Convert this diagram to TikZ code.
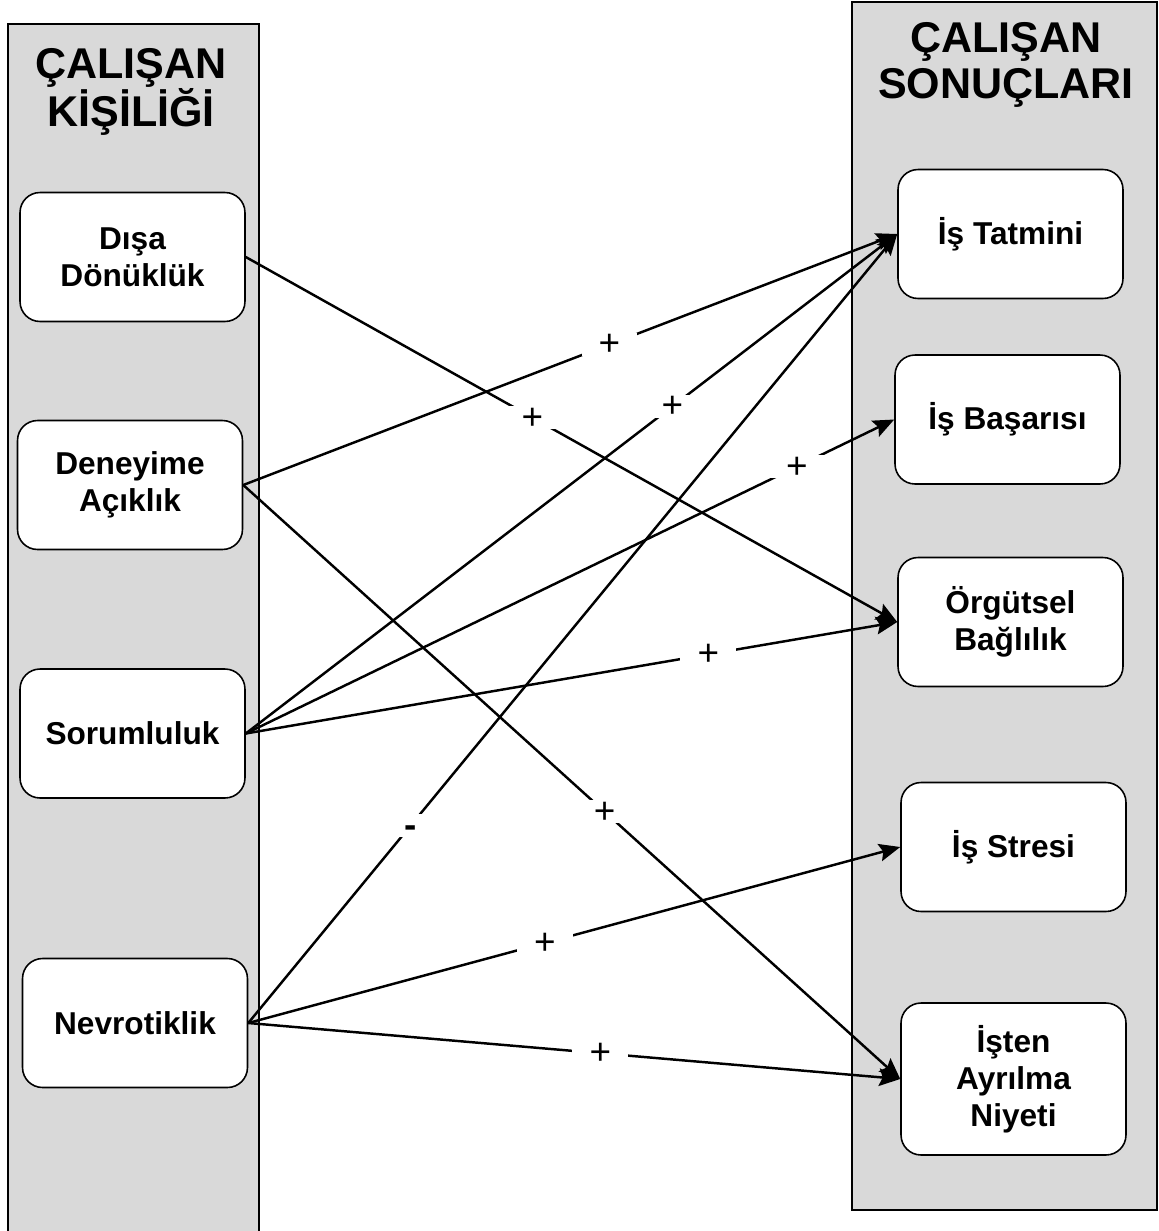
\documentclass[tikz,border=0pt]{standalone}
\usepackage{fontspec}
\setmainfont{Liberation Sans}
\usetikzlibrary{arrows.meta}
\tikzset{
    panel/.style={
        draw=black,
        fill=black!15,
        line width=1.2pt
    },
    heading/.style={
        align=center,
        font=\fontsize{24.5}{26}\selectfont\bfseries
    },
    trait/.style={
        rectangle,
        rounded corners=0.4cm,
        draw=black,
        fill=white,
        line width=0.9pt,
        align=center,
        minimum width=4.5cm,
        minimum height=2.58cm,
        font=\fontsize{18}{21}\selectfont\bfseries
    },
    arrow/.style={
        -{Stealth[length=12pt,width=10pt,inset=2pt]},
        line width=1.4pt
    },
    sign/.style={
        fill=white,
        inner xsep=9.8pt,
        inner ysep=0pt,
        text height=1.3em,
        text depth=0pt,
        font=\fontsize{21}{24}\selectfont
    }
}
\begin{document}
\begin{tikzpicture}[x=0.02cm, y=-0.02cm]
    \useasboundingbox (0,0) rectangle (1159,1231);
    \clip (0,0) rectangle (1159,1231);
    % the two grey columns
    \draw[panel] (8,24) rectangle (259,1260);
    \draw[panel] (852,2) rectangle (1157,1210);
    \node[heading] (lhead) at (131,92) {ÇALIŞAN\\KİŞİLİĞİ};
    \node[heading] (rhead) at (1006,65) {ÇALIŞAN\\SONUÇLARI};
    % personality traits
    \node[trait] (extra) at (132.5,257) {Dışa\\Dönüklük};
    \node[trait] (open) at (130,485) {Deneyime\\Açıklık};
    \node[trait] (consc) at (132.5,733.5) {Sorumluluk};
    \node[trait] (neuro) at (135,1023) {Nevrotiklik};
    % outcomes
    \node[trait] (satis) at (1010.5,234) {İş Tatmini};
    \node[trait] (perf) at (1007.5,419.5) {İş Başarısı};
    \node[trait] (commit) at (1010.5,622) {Örgütsel\\Bağlılık};
    \node[trait] (stress) at (1013.5,847) {İş Stresi};
    \node[trait, minimum height=3.04cm] (quit) at (1013.5,1079) {İşten\\Ayrılma\\Niyeti};
    % relations
    \draw[arrow] (extra.east) -- node[sign, pos=0.44] {+} (commit.west);
    \draw[arrow] (open.east) -- node[sign, pos=0.56] {+} (satis.west);
    \draw[arrow] (open.east) -- node[sign, pos=0.55] {+} (quit.west);
    \draw[arrow] (consc.east) -- node[sign, pos=0.655] {+} (satis.west);
    \draw[arrow] (consc.east) -- node[sign, pos=0.85] {+} (perf.west);
    \draw[arrow] (consc.east) -- node[sign, pos=0.71] {+} (commit.west);
    \draw[arrow] (neuro.east) -- node[sign, pos=0.25] {\bfseries -} (satis.west);
    \draw[arrow] (neuro.east) -- node[sign, pos=0.455] {+} (stress.west);
    \draw[arrow] (neuro.east) -- node[sign, pos=0.54] {+} (quit.west);
\end{tikzpicture}
\end{document}
